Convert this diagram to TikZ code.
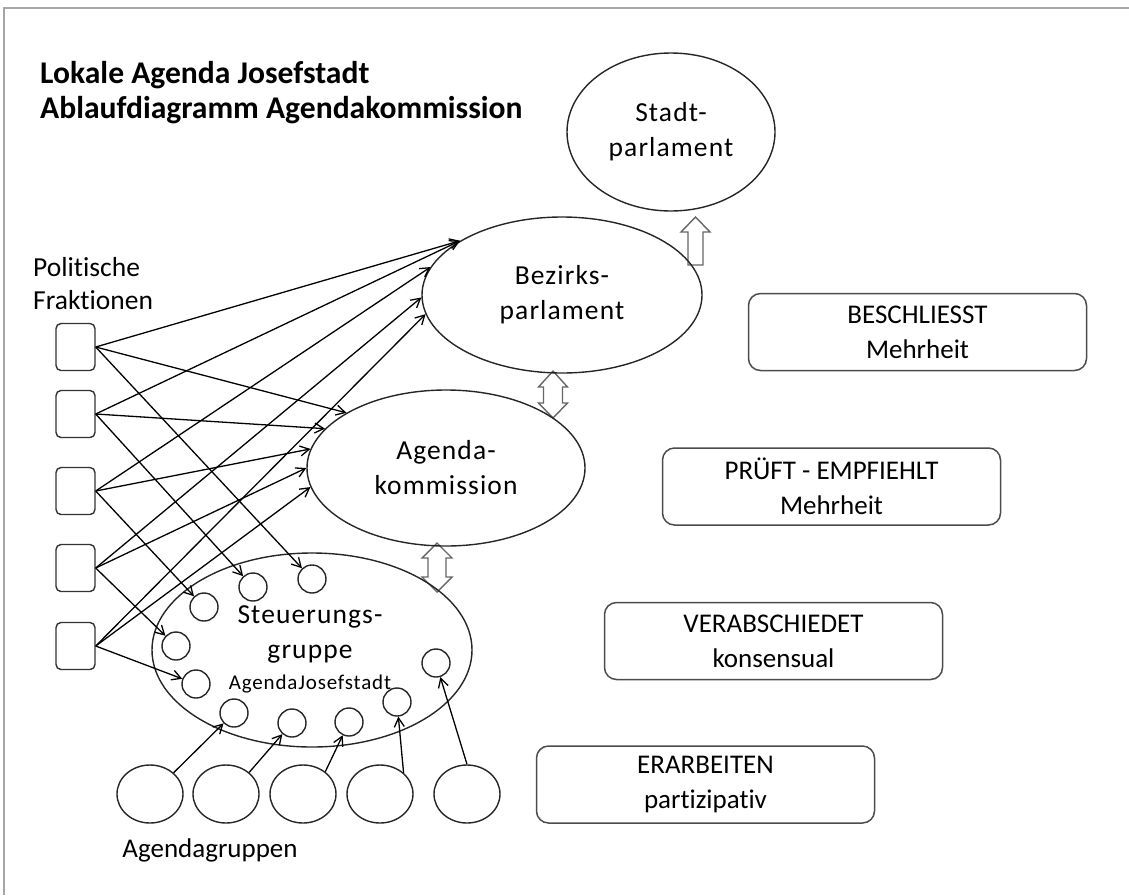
\documentclass[tikz,border=0pt]{standalone}
\usepackage{fontspec}
\setmainfont[Ligatures=NoCommon]{Carlito}
\newfontfamily\spacedfont[LetterSpace=4,Ligatures=NoCommon]{Carlito}
\usetikzlibrary{shapes.geometric,arrows.meta}
\begin{document}
\begin{tikzpicture}[x=1pt,y=-1pt,
  txt/.style={font=\fontsize{27}{35}\selectfont, text=black, align=center},
  stxt/.style={font=\spacedfont\fontsize{27.5}{35}\selectfont, text=black, align=center},
  ell/.style={ellipse, draw=black!85, line width=1.4pt, inner sep=0pt, stxt},
  sq/.style={rectangle, rounded corners=5pt, draw=black!80, line width=1.4pt, minimum width=39pt, minimum height=47pt, inner sep=0pt},
  sc/.style={circle, draw=black!85, line width=1.4pt, minimum size=28pt, inner sep=0pt},
  grp/.style={ellipse, draw=black!85, line width=1.4pt, minimum width=66pt, minimum height=58pt, inner sep=0pt},
  lbox/.style={rectangle, rounded corners=12pt, draw=black!70, line width=1.5pt, minimum width=338pt, minimum height=77pt, inner sep=0pt, txt},
  conn/.style={draw=black, line width=1.3pt, -{Straight Barb[length=9pt,width=10pt]}},
  barrow/.style={draw=black!60, line width=1.4pt, fill=white, line join=miter},
]
\useasboundingbox (0,0) rectangle (1129,895);
% frame
\draw[black!35, line width=2pt] (4,895) -- (4,8) -- (1129,8);

% title
\node[anchor=west, font=\fontsize{31.6}{35}\selectfont\bfseries, text=black, align=left, inner sep=0pt] (title) at (40,93) {Lokale Agenda Josefstadt\\Ablaufdiagramm Agendakommission};

% block arrows
\draw[barrow] (688,265) -- (688,232) -- (681,232) -- (695.5,217) -- (710,232) -- (703,232) -- (703,265) -- cycle;
\draw[barrow] (553,371) -- (567.5,387) -- (562.5,387) -- (562.5,403) -- (567.5,403) -- (553,418) -- (538.5,403) -- (543.5,403) -- (543.5,387) -- (538.5,387) -- cycle;
\draw[barrow] (437,543) -- (452,558) -- (446,558) -- (446,577) -- (452,577) -- (437,592) -- (422,577) -- (428,577) -- (428,558) -- (422,558) -- cycle;

% ellipses
\node[ell, minimum width=208pt, minimum height=158pt] (stadt) at (671,132) {Stadt-\\parlament};
\node[ell, minimum width=280pt, minimum height=156pt] (bez) at (562,295) {Bezirks-\\parlament};
\node[ell, minimum width=278pt, minimum height=156pt] (agd) at (446,468) {Agenda-\\kommission};
\node[ell, minimum width=320pt, minimum height=194pt] (steu) at (312,650) {};
\node[stxt, inner sep=0pt] (steutxt) at (310,649) {Steuerungs-\\gruppe\\[-4pt]{\fontsize{21}{24}\selectfont AgendaJosefstadt}};

% small circles
\node[sc] (c1) at (204,607) {};
\node[sc] (c2) at (253,587) {};
\node[sc] (c3) at (312,579) {};
\node[sc] (c4) at (176,646) {};
\node[sc] (c5) at (196,684) {};
\node[sc] (c6) at (234,713) {};
\node[sc] (c7) at (292,723) {};
\node[sc] (c8) at (349,722) {};
\node[sc] (c9) at (397,702) {};
\node[sc] (c10) at (436,663) {};

% Agendagruppen
\node[grp] (g1) at (150,794) {};
\node[grp] (g2) at (226,794) {};
\node[grp] (g3) at (303,794) {};
\node[grp] (g4) at (380,794) {};
\node[grp] (g5) at (467,794) {};
\node[txt] (glabel) at (210,850) {Agendagruppen};

% Politische Fraktionen
\node[anchor=west, font=\fontsize{27.5}{33}\selectfont, text=black, align=left, inner sep=0pt] (pf) at (33,284) {Politische\\Fraktionen};
\node[sq] (sq1) at (75.5,347) {};
\node[sq] (sq2) at (75.5,414) {};
\node[sq] (sq3) at (75.5,491) {};
\node[sq] (sq4) at (75.5,568) {};
\node[sq] (sq5) at (75.5,646) {};

% right boxes
\node[lbox] (b1) at (917.5,332) {BESCHLIESST\\Mehrheit};
\node[lbox] (b2) at (831.5,486.5) {PRÜFT - EMPFIEHLT\\Mehrheit};
\node[lbox] (b3) at (773.5,641) {VERABSCHIEDET\\konsensual};
\node[lbox] (b4) at (705.5,784.5) {ERARBEITEN\\partizipativ};

% connectors squares -> Bezirksparlament
\draw[conn] (sq1.east) -- (bez.152.5);
\draw[conn] (sq2.east) -- (bez.152.5);
\draw[conn] (sq3.east) -- (bez.168);
\draw[conn] (sq4.east) -- (bez.181);
\draw[conn] (sq5.east) -- (bez.188.6);
% squares -> Agendakommission
\draw[conn] (sq1.east) -- (agd.151.4);
\draw[conn] (sq2.east) -- (agd.162);
\draw[conn] (sq3.east) -- (agd.172);
\draw[conn] (sq4.east) -- (agd.180);
\draw[conn] (sq5.east) -- (agd.188);
% squares -> Steuerungsgruppe members
\draw[conn] (sq1.east) -- (c3);
\draw[conn] (sq2.east) -- (c2);
\draw[conn] (sq3.east) -- (c1);
\draw[conn] (sq4.east) -- (c4);
\draw[conn] (sq5.east) -- (c5);
% Agendagruppen -> members
\draw[conn] (g1.42) -- (c6);
\draw[conn] (g2.43) -- (c7);
\draw[conn] (g3.45) -- (c8);
\draw[conn] (g4.42) -- (c9);
\draw[conn] (g5.90) -- (c10);
\end{tikzpicture}
\end{document}
